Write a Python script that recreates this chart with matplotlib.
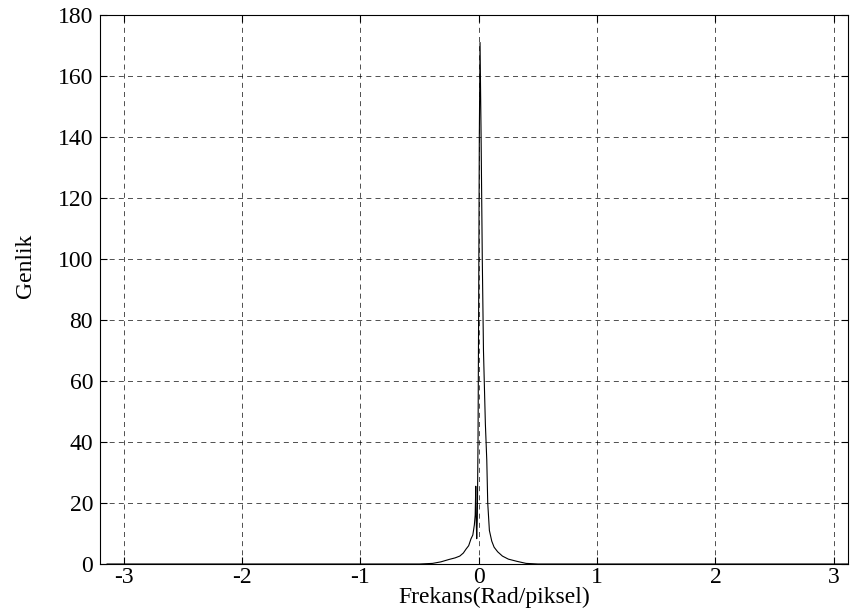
import numpy as np
import matplotlib.pyplot as plt

# values
freq = [-3.14, -0.5, -0.39, -0.32, -0.25, -0.2, -0.16, -0.13, -0.107, -0.085,
        -0.065, -0.05, -0.037, -0.03, -0.025, -0.021, -0.017, -0.012, -0.006,
        0.0, 0.005, 0.011, 0.02, 0.03, 0.04, 0.056, 0.068, 0.076, 0.09, 0.11,
        0.13, 0.16, 0.2, 0.25, 0.32, 0.4, 0.5, 3.14]
amp = [0, 0, 0.2, 0.7, 1.5, 2.0, 2.6, 3.6, 4.9, 6.0,
       8.3, 9.5, 12.8, 16, 25.5, 14, 8.3, 15, 40,
       90, 140, 171, 140, 100, 70, 46, 34, 20, 11, 7.5,
       5.5, 4, 2.6, 1.6, 0.9, 0.2, 0, 0]
xticks = [-3, -2, -1, 0, 1, 2, 3]
yticks = list(range(0, 181, 20))

plt.rcParams['font.family'] = ['Liberation Serif', 'DejaVu Serif']
plt.rcParams['axes.unicode_minus'] = False

fig = plt.figure(figsize=(8.51, 6.09), dpi=100)
ax = fig.add_axes([100/851, 45/609, 748/851, 549/609])
ax.plot(freq, amp, color='black', linewidth=0.8)
ax.set_xlim(-3.2, 3.12)
ax.set_ylim(0, 180)
ax.set_xticks(xticks)
ax.set_yticks(yticks)
ax.grid(True, color='black', linestyle=(0, (6, 5)), linewidth=0.6, alpha=0.8)
ax.tick_params(direction='in', labelsize=17, length=5, top=True, right=True,
               labeltop=False, labelright=False)
ax.tick_params(axis='x', pad=2)
ax.tick_params(axis='y', pad=5)
ax.set_xlabel('Frekans(Rad/piksel)', fontsize=17, va='bottom')
ax.xaxis.set_label_coords(0.527, -0.081)
ax.set_ylabel('Genlik', fontsize=17, va='center')
ax.yaxis.set_label_coords(-0.1, 0.543)
for s in ax.spines.values():
    s.set_linewidth(0.8)

fig.savefig('out.png', dpi=100)
